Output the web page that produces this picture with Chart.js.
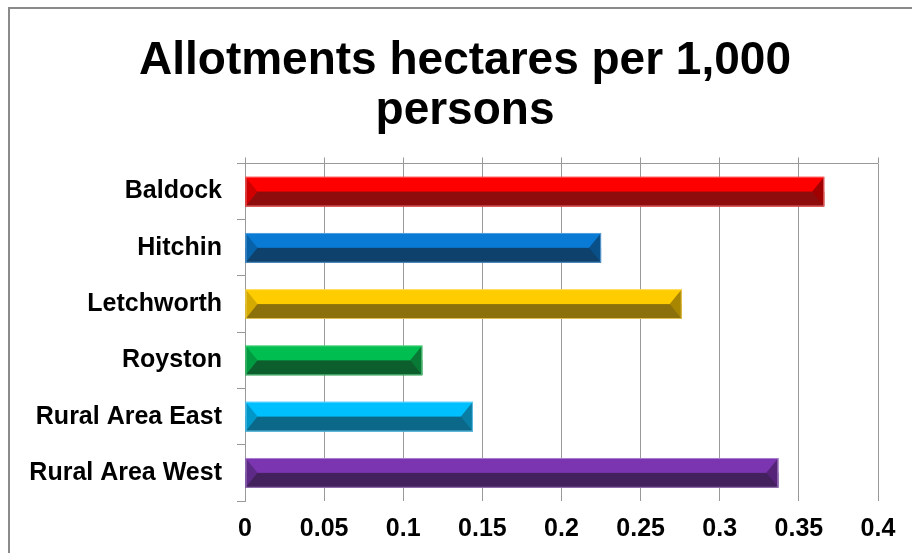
<!DOCTYPE html>
<html>
<head>
<meta charset="utf-8">
<script src="https://cdn.jsdelivr.net/npm/chart.js@4/dist/chart.umd.min.js"></script>
<style>
    html, body { margin: 0; padding: 0; background: #fff; overflow: hidden; }
    #wrap { position: relative; width: 912px; height: 553px; }
    #frame {
        position: absolute; left: 8px; top: 7px; width: 1000px; height: 700px;
        border-left: 2px solid #8a8a8a; border-top: 2px solid #8a8a8a;
        pointer-events: none;
    }
    canvas { position: absolute; left: 0; top: 0; }
</style>
</head>
<body>
<div id="wrap">
    <canvas id="chart" width="912" height="553"></canvas>
    <div id="frame"></div>
</div>
<script>
// Data
const categories = ['Baldock', 'Hitchin', 'Letchworth', 'Royston', 'Rural Area East', 'Rural Area West'];
const values = [0.366, 0.225, 0.276, 0.112, 0.144, 0.337];
const xTickValues = [0, 0.05, 0.1, 0.15, 0.2, 0.25, 0.3, 0.35, 0.4];
const xTickLabels = ['0', '0.05', '0.1', '0.15', '0.2', '0.25', '0.3', '0.35', '0.4'];
const titleLines = ['Allotments hectares per 1,000', 'persons'];

// Bevel look: bright top half, dark bottom half, shaded end facets
const topColors = ['#FF0000', '#0A7BD4', '#FFCC00', '#00BF50', '#00BFFF', '#7B35B0'];
const bottomColors = ['#8E0C0C', '#0E416C', '#8C700C', '#0D5E2D', '#0B6889', '#42215C'];
const leftFacets = ['#D00000', '#0862AA', '#D4AA00', '#009A40', '#0096C8', '#5E2A88'];
const rightFacets = ['#A00000', '#094F88', '#A88600', '#087A36', '#0A7DA4', '#552478'];
const outlineColors = ['rgba(255,140,140,0.7)', 'rgba(120,180,230,0.7)', 'rgba(255,225,120,0.7)',
    'rgba(120,220,150,0.7)', 'rgba(140,220,255,0.7)', 'rgba(190,160,220,0.7)'];

const GRID = '#999999';
const FONT = "'Liberation Sans', Arial, sans-serif";

const bevelPlugin = {
    id: 'bevel',
    afterDatasetsDraw(chart) {
        const ctx = chart.ctx;
        const meta = chart.getDatasetMeta(0);
        ctx.save();
        meta.data.forEach((bar, i) => {
            const { x, y, base, height } = bar.getProps(['x', 'y', 'base', 'height'], true);
            const left = Math.min(base, x), right = Math.max(base, x);
            const top = y - height / 2, bottom = y + height / 2;
            const b = Math.min(12, (right - left) / 2);

            ctx.fillStyle = bottomColors[i];
            ctx.fillRect(left, y, right - left, bottom - y);

            ctx.fillStyle = leftFacets[i];
            ctx.beginPath();
            ctx.moveTo(left, top);
            ctx.lineTo(left + b, y);
            ctx.lineTo(left, bottom);
            ctx.closePath();
            ctx.fill();

            ctx.fillStyle = rightFacets[i];
            ctx.beginPath();
            ctx.moveTo(right, top);
            ctx.lineTo(right - b, y);
            ctx.lineTo(right, bottom);
            ctx.closePath();
            ctx.fill();

            ctx.strokeStyle = outlineColors[i];
            ctx.lineWidth = 1;
            ctx.strokeRect(left + 0.5, top + 0.5, right - left - 1, height - 1);
        });
        ctx.restore();
    }
};

const xTicksFromData = (scale) => {
    scale.ticks = xTickValues.map(v => ({ value: v }));
};

new Chart(document.getElementById('chart'), {
    type: 'bar',
    data: {
        labels: categories,
        datasets: [{
            data: values,
            backgroundColor: topColors,
            borderWidth: 0,
            categoryPercentage: 1,
            barPercentage: 0.53
        }]
    },
    options: {
        indexAxis: 'y',
        responsive: false,
        animation: false,
        layout: { padding: { left: 25, right: 7, top: 0, bottom: -4 } },
        plugins: {
            legend: { display: false },
            tooltip: { enabled: false },
            title: {
                display: true,
                text: titleLines,
                color: '#000',
                font: { family: FONT, size: 46, weight: 'bold', lineHeight: 1.07 },
                padding: { top: 37, bottom: 22 }
            }
        },
        scales: {
            x: {
                min: 0,
                max: 0.4,
                afterBuildTicks: xTicksFromData,
                grid: { color: GRID, lineWidth: 1, drawTicks: false },
                border: { display: false },
                ticks: {
                    color: '#000',
                    padding: 13,
                    maxRotation: 0,
                    font: { family: FONT, size: 25, weight: 'bold' },
                    callback: (v, i) => xTickLabels[i]
                }
            },
            // top axis only for the short tick marks above the plot
            xTop: {
                type: 'linear',
                axis: 'x',
                position: 'top',
                min: 0,
                max: 0.4,
                afterBuildTicks: xTicksFromData,
                grid: { color: GRID, drawOnChartArea: false, drawTicks: true, tickLength: 6 },
                border: { display: false },
                ticks: { display: false }
            },
            y: {
                grid: {
                    offset: true,
                    color: (c) => c.index === 0 ? GRID : 'rgba(0,0,0,0)',
                    tickColor: GRID,
                    tickLength: 8,
                    lineWidth: 1
                },
                border: { display: true, color: GRID, width: 1 },
                ticks: {
                    color: '#000',
                    padding: 15,
                    font: { family: FONT, size: 25, weight: 'bold' }
                }
            },
            // empty spacer on the right so the title sits where the reference has it
            spacer: {
                type: 'linear',
                axis: 'y',
                position: 'right',
                grid: { display: false },
                border: { display: false },
                ticks: { display: false },
                afterFit: (scale) => { scale.width = 27; }
            }
        }
    },
    plugins: [bevelPlugin]
});
</script>
</body>
</html>
